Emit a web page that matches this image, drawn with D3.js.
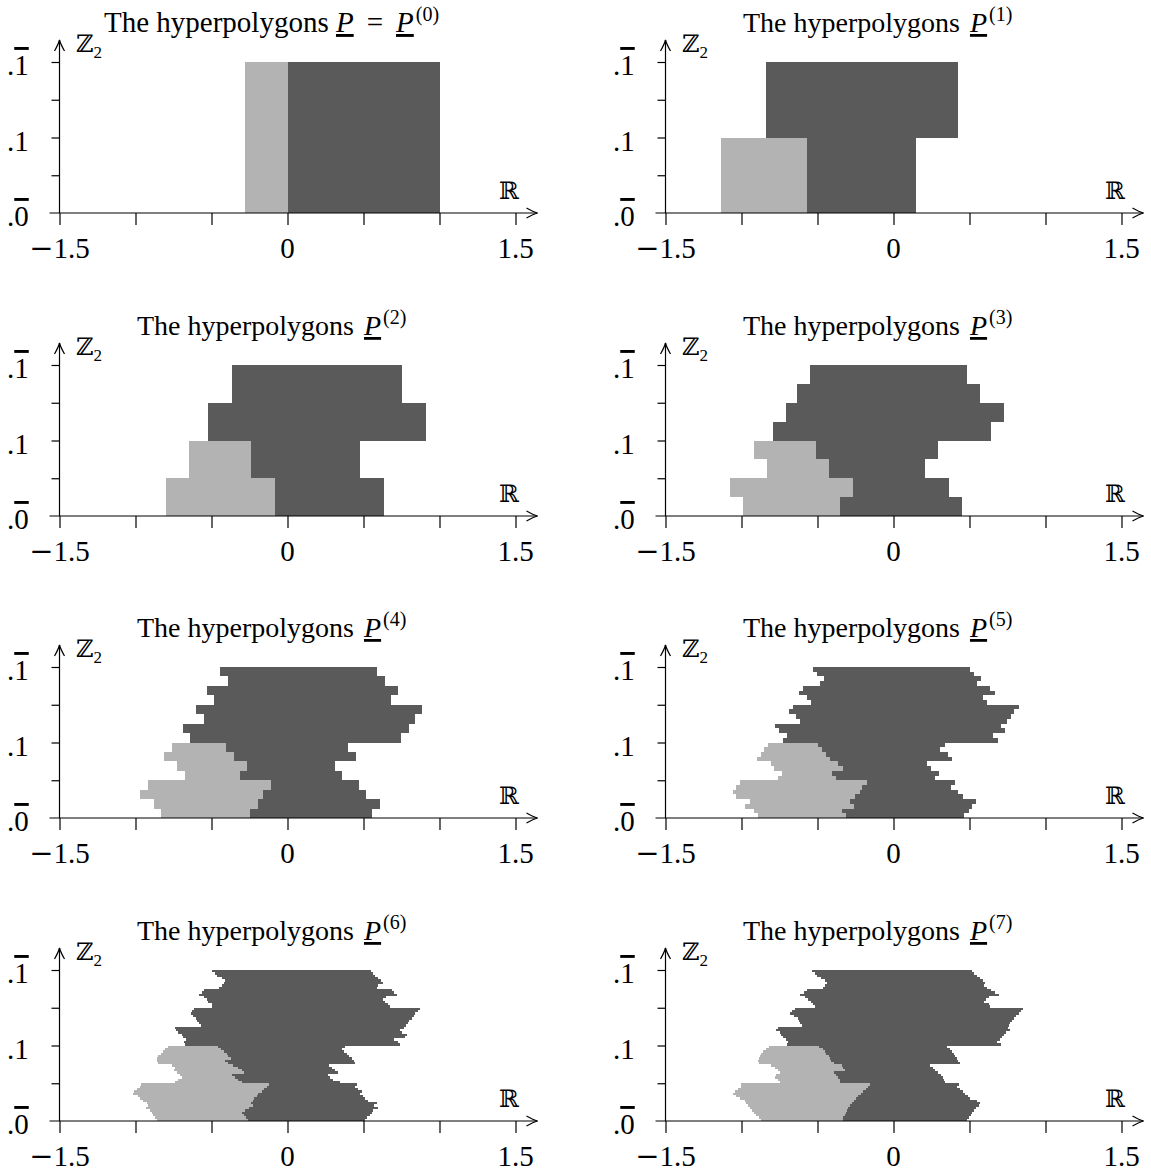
<!DOCTYPE html>
<html>
<head>
<meta charset="utf-8">
<script src="https://cdn.jsdelivr.net/npm/d3@7"></script>
<style>
body { margin: 0; background: #fff; }
text { font-family: "Liberation Serif", "DejaVu Serif", serif; fill: #000; }
</style>
</head>
<body>
<div id="chart"></div>
<script>
// rows are listed from the top (.1bar) down to the bottom (.0bar)
// left = left edge, mid = light/dark border (null: no light part), right = right edge
const p0Left = [-0.28];
const p0Mid = [0];
const p0Right = [1.0];

const p1Left = [-0.842, -1.132];
const p1Mid = [null, -0.571];
const p1Right = [0.426, 0.149];

const p2Left = [-0.365, -0.523, -0.648, -0.80];
const p2Mid = [null, null, -0.240, -0.082];
const p2Right = [0.753, 0.911, 0.477, 0.635];

const p3Left = [-0.551, -0.637, -0.710, -0.796, -0.921, -0.829, -1.073, -0.987];
const p3Mid = [null, null, null, null, -0.512, -0.426, -0.267, -0.353];
const p3Right = [0.485, 0.571, 0.729, 0.643, 0.294, 0.208, 0.366, 0.452];

const p4Left = [-0.444, -0.391, -0.530, -0.484, -0.602, -0.549, -0.688, -0.641,
                -0.760, -0.813, -0.727, -0.674, -0.918, -0.970, -0.878, -0.832];
const p4Mid = [null, null, null, null, null, null, null, null,
               -0.405, -0.352, -0.266, -0.313, -0.109, -0.161, -0.194, -0.247];
const p4Right = [0.587, 0.639, 0.725, 0.679, 0.883, 0.837, 0.797, 0.745,
                 0.396, 0.448, 0.310, 0.356, 0.468, 0.514, 0.606, 0.554];

const p5Left = [-0.531, -0.505, -0.459, -0.485, -0.597, -0.624, -0.571, -0.545,
                -0.663, -0.690, -0.644, -0.617, -0.782, -0.756, -0.703, -0.729,
                -0.828, -0.855, -0.875, -0.901, -0.809, -0.789, -0.736, -0.762,
                -1.013, -1.033, -1.059, -1.033, -0.947, -0.974, -0.921, -0.894];
const p5Mid = [null, null, null, null, null, null, null, null,
               null, null, null, null, null, null, null, null,
               -0.498, -0.472, -0.446, -0.419, -0.366, -0.333, -0.406, -0.380,
               -0.175, -0.208, -0.221, -0.254, -0.287, -0.261, -0.340, -0.314];
const p5Right = [0.503, 0.529, 0.575, 0.549, 0.635, 0.668, 0.589, 0.615,
                 0.826, 0.793, 0.773, 0.747, 0.707, 0.734, 0.655, 0.688,
                 0.338, 0.305, 0.358, 0.384, 0.219, 0.245, 0.298, 0.272,
                 0.404, 0.377, 0.424, 0.457, 0.542, 0.516, 0.496, 0.463];

const p6Left = [-0.494, -0.477, -0.462, -0.429, -0.411, -0.420, -0.433, -0.448,
                -0.551, -0.565, -0.582, -0.547, -0.530, -0.521, -0.494, -0.494,
                -0.617, -0.630, -0.635, -0.619, -0.602, -0.593, -0.582, -0.569,
                -0.740, -0.731, -0.718, -0.696, -0.685, -0.670, -0.683, -0.674,
                -0.784, -0.806, -0.821, -0.832, -0.850, -0.856, -0.858, -0.854,
                -0.762, -0.740, -0.749, -0.729, -0.707, -0.692, -0.718, -0.740,
                -0.964, -0.973, -0.992, -1.008, -1.014, -0.981, -0.970, -0.948,
                -0.926, -0.915, -0.933, -0.905, -0.894, -0.883, -0.872, -0.861];
const p6Mid = [null, null, null, null, null, null, null, null,
               null, null, null, null, null, null, null, null,
               null, null, null, null, null, null, null, null,
               null, null, null, null, null, null, null, null,
               -0.455, -0.437, -0.420, -0.400, -0.389, -0.372, -0.411, -0.394,
               -0.356, -0.323, -0.297, -0.284, -0.367, -0.345, -0.323, -0.301,
               -0.122, -0.137, -0.152, -0.170, -0.192, -0.203, -0.218, -0.229,
               -0.240, -0.225, -0.253, -0.280, -0.297, -0.284, -0.271, -0.258];
const p6Right = [0.547, 0.560, 0.576, 0.598, 0.613, 0.626, 0.598, 0.587,
                 0.685, 0.699, 0.718, 0.648, 0.631, 0.642, 0.663, 0.674,
                 0.872, 0.856, 0.841, 0.830, 0.817, 0.799, 0.791, 0.782,
                 0.769, 0.742, 0.756, 0.784, 0.773, 0.699, 0.729, 0.742,
                 0.378, 0.356, 0.374, 0.389, 0.405, 0.422, 0.435, 0.444,
                 0.273, 0.291, 0.313, 0.335, 0.264, 0.280, 0.302, 0.345,
                 0.455, 0.444, 0.466, 0.488, 0.477, 0.499, 0.510, 0.532,
                 0.587, 0.571, 0.598, 0.565, 0.554, 0.543, 0.521, 0.510];

const p7Left = [-0.534, -0.518, -0.503, -0.474, -0.452, -0.437, -0.452, -0.463,
                -0.569, -0.591, -0.613, -0.584, -0.562, -0.540, -0.529, -0.518,
                -0.650, -0.666, -0.679, -0.657, -0.628, -0.622, -0.613, -0.600,
                -0.760, -0.771, -0.749, -0.738, -0.727, -0.710, -0.694, -0.701,
                -0.820, -0.842, -0.859, -0.870, -0.881, -0.886, -0.892, -0.886,
                -0.804, -0.782, -0.760, -0.749, -0.771, -0.782, -0.760, -0.749,
                -1.002, -1.002, -1.024, -1.046, -1.053, -1.035, -1.013, -0.980,
                -0.969, -0.958, -0.947, -0.930, -0.921, -0.903, -0.886, -0.870];
const p7Mid = [null, null, null, null, null, null, null, null,
               null, null, null, null, null, null, null, null,
               null, null, null, null, null, null, null, null,
               null, null, null, null, null, null, null, null,
               -0.490, -0.463, -0.452, -0.441, -0.424, -0.415, -0.408, -0.393,
               -0.342, -0.331, -0.320, -0.393, -0.380, -0.364, -0.353, -0.349,
               -0.155, -0.166, -0.182, -0.199, -0.217, -0.232, -0.248, -0.261,
               -0.276, -0.287, -0.298, -0.309, -0.314, -0.320, -0.331, -0.331];
const p7Right = [0.516, 0.531, 0.549, 0.567, 0.589, 0.604, 0.597, 0.615,
                 0.641, 0.670, 0.692, 0.626, 0.611, 0.597, 0.626, 0.637,
                 0.853, 0.839, 0.824, 0.809, 0.791, 0.780, 0.769, 0.758,
                 0.751, 0.765, 0.743, 0.729, 0.714, 0.699, 0.681, 0.707,
                 0.351, 0.373, 0.384, 0.395, 0.406, 0.417, 0.426, 0.435,
                 0.241, 0.259, 0.274, 0.296, 0.311, 0.325, 0.333, 0.340,
                 0.428, 0.417, 0.439, 0.457, 0.472, 0.487, 0.505, 0.549,
                 0.567, 0.560, 0.545, 0.527, 0.518, 0.509, 0.494, 0.483];

const xTicks = [-1.5, -1, -0.5, 0, 0.5, 1, 1.5];
const xLabelled = [-1.5, 0, 1.5];
const yTicks = [0.25, 0.5, 0.75, 1];

const w = 1151, h = 1176;
const svg = d3.select('#chart').append('svg')
              .attr('width', w)
              .attr('height', h);

const panels = [
  { left: p0Left, mid: p0Mid, right: p0Right },
  { left: p1Left, mid: p1Mid, right: p1Right },
  { left: p2Left, mid: p2Mid, right: p2Right },
  { left: p3Left, mid: p3Mid, right: p3Right },
  { left: p4Left, mid: p4Mid, right: p4Right },
  { left: p5Left, mid: p5Mid, right: p5Right },
  { left: p6Left, mid: p6Mid, right: p6Right },
  { left: p7Left, mid: p7Mid, right: p7Right }
];

panels.forEach((p, i) => {
  const ox = (i % 2) * 606;
  const axisY = Math.round(213 + Math.floor(i / 2) * 302.7);
  const top = axisY - 151;
  const x = d3.scaleLinear().domain([-1.5, 1.5]).range([59.5 + ox, 515.5 + ox]);
  const y = d3.scaleLinear().domain([0, 1]).range([axisY, top]);
  const g = svg.append('g');
  const n = p.left.length;

  const rows = p.left.map((l, j) => ({
    l: l, m: p.mid[j], r: p.right[j],
    y0: Math.round(y(1 - j / n)), y1: Math.round(y(1 - (j + 1) / n))
  }));

  g.selectAll('rect.light')
   .data(rows.filter(d => d.m !== null))
   .enter()
   .append('rect')
   .attr('x', d => x(d.l))
   .attr('width', d => x(d.m) - x(d.l))
   .attr('y', d => d.y0)
   .attr('height', d => d.y1 - d.y0)
   .attr('fill', '#b3b3b3')
   .attr('shape-rendering', 'crispEdges');

  g.selectAll('rect.dark')
   .data(rows)
   .enter()
   .append('rect')
   .attr('x', d => x(d.m === null ? d.l : d.m))
   .attr('width', d => x(d.r) - x(d.m === null ? d.l : d.m))
   .attr('y', d => d.y0)
   .attr('height', d => d.y1 - d.y0)
   .attr('fill', '#5a5a5a')
   .attr('shape-rendering', 'crispEdges');

  // x axis
  const xAxis = g.append('g')
                 .attr('transform', `translate(0,${axisY})`)
                 .call(d3.axisBottom(x).tickValues(xTicks).tickSize(12).tickFormat(''));
  xAxis.select('.domain').remove();
  xAxis.selectAll('text').remove();
  xAxis.selectAll('line').attr('stroke', '#000').attr('stroke-width', 1.2);

  xLabelled.forEach(v => {
    const t = g.append('text')
               .attr('x', x(v)).attr('y', axisY + 45)
               .attr('text-anchor', 'middle')
               .style('font-size', '29px');
    if (v < 0) {
      t.append('tspan').style('font-family', '"DejaVu Serif"').text('\u2212');
    }
    t.append('tspan').text(String(Math.abs(v)));
  });

  g.append('line')
   .attr('x1', x(-1.5) - 10).attr('x2', x(1.5) + 22)
   .attr('y1', axisY).attr('y2', axisY)
   .attr('stroke', '#000').attr('stroke-width', 1.2);
  const tipX = x(1.5) + 22;
  g.append('path')
   .attr('d', `M${tipX - 11},${axisY - 5} Q${tipX - 4},${axisY - 1} ${tipX},${axisY} Q${tipX - 4},${axisY + 1} ${tipX - 11},${axisY + 5}`)
   .attr('fill', 'none').attr('stroke', '#000').attr('stroke-width', 1.2);

  // y axis
  const yAxis = g.append('g')
                 .attr('transform', `translate(${x(-1.5)},0)`)
                 .call(d3.axisLeft(y).tickValues(yTicks).tickSize(8).tickFormat(''));
  yAxis.select('.domain').remove();
  yAxis.selectAll('text').remove();
  yAxis.selectAll('line').attr('stroke', '#000').attr('stroke-width', 1.2);

  const tipY = top - 22;
  g.append('line')
   .attr('x1', x(-1.5)).attr('x2', x(-1.5))
   .attr('y1', axisY).attr('y2', tipY)
   .attr('stroke', '#000').attr('stroke-width', 1.2);
  g.append('path')
   .attr('d', `M${x(-1.5) - 5},${tipY + 11} Q${x(-1.5) - 1},${tipY + 4} ${x(-1.5)},${tipY} Q${x(-1.5) + 1},${tipY + 4} ${x(-1.5) + 5},${tipY + 11}`)
   .attr('fill', 'none').attr('stroke', '#000').attr('stroke-width', 1.2);

  const yLab = [[1, '1', true], [0.5, '1', false], [0, '0', true]];
  yLab.forEach(([v, dgt, bar]) => {
    const t = g.append('text')
               .attr('x', 7 + ox).attr('y', y(v) + 13)
               .style('font-size', '29px');
    t.append('tspan').text('.');
    t.append('tspan').text(dgt).style('text-decoration', bar ? 'overline' : 'none');
  });

  // axis names
  const zt = g.append('text').attr('x', 76 + ox).attr('y', top - 10).style('font-size', '24px');
  zt.append('tspan').text('\u2124');
  zt.append('tspan').text('2').attr('dy', 6).style('font-size', '17px');

  g.append('text').attr('x', 499 + ox).attr('y', axisY - 14)
   .style('font-size', '24px').text('\u211D');

  // title
  const tt = g.append('text')
              .attr('x', (i === 0 ? 104 : 137) + ox)
              .attr('y', top - 30)
              .style('font-size', i === 0 ? '29px' : '28px');
  tt.append('tspan').text('The hyperpolygons ');
  if (i === 0) {
    tt.append('tspan').text('P').style('font-style', 'italic').style('text-decoration', 'underline');
    tt.append('tspan').text('=').attr('dx', 13);
    tt.append('tspan').text('P').attr('dx', 13).style('font-style', 'italic').style('text-decoration', 'underline');
  } else {
    tt.append('tspan').text('P').attr('dx', 3).style('font-style', 'italic').style('text-decoration', 'underline');
  }
  tt.append('tspan').text(`(${i})`).attr('dx', 2).attr('dy', -11).style('font-size', '20px');
});
</script>
</body>
</html>
